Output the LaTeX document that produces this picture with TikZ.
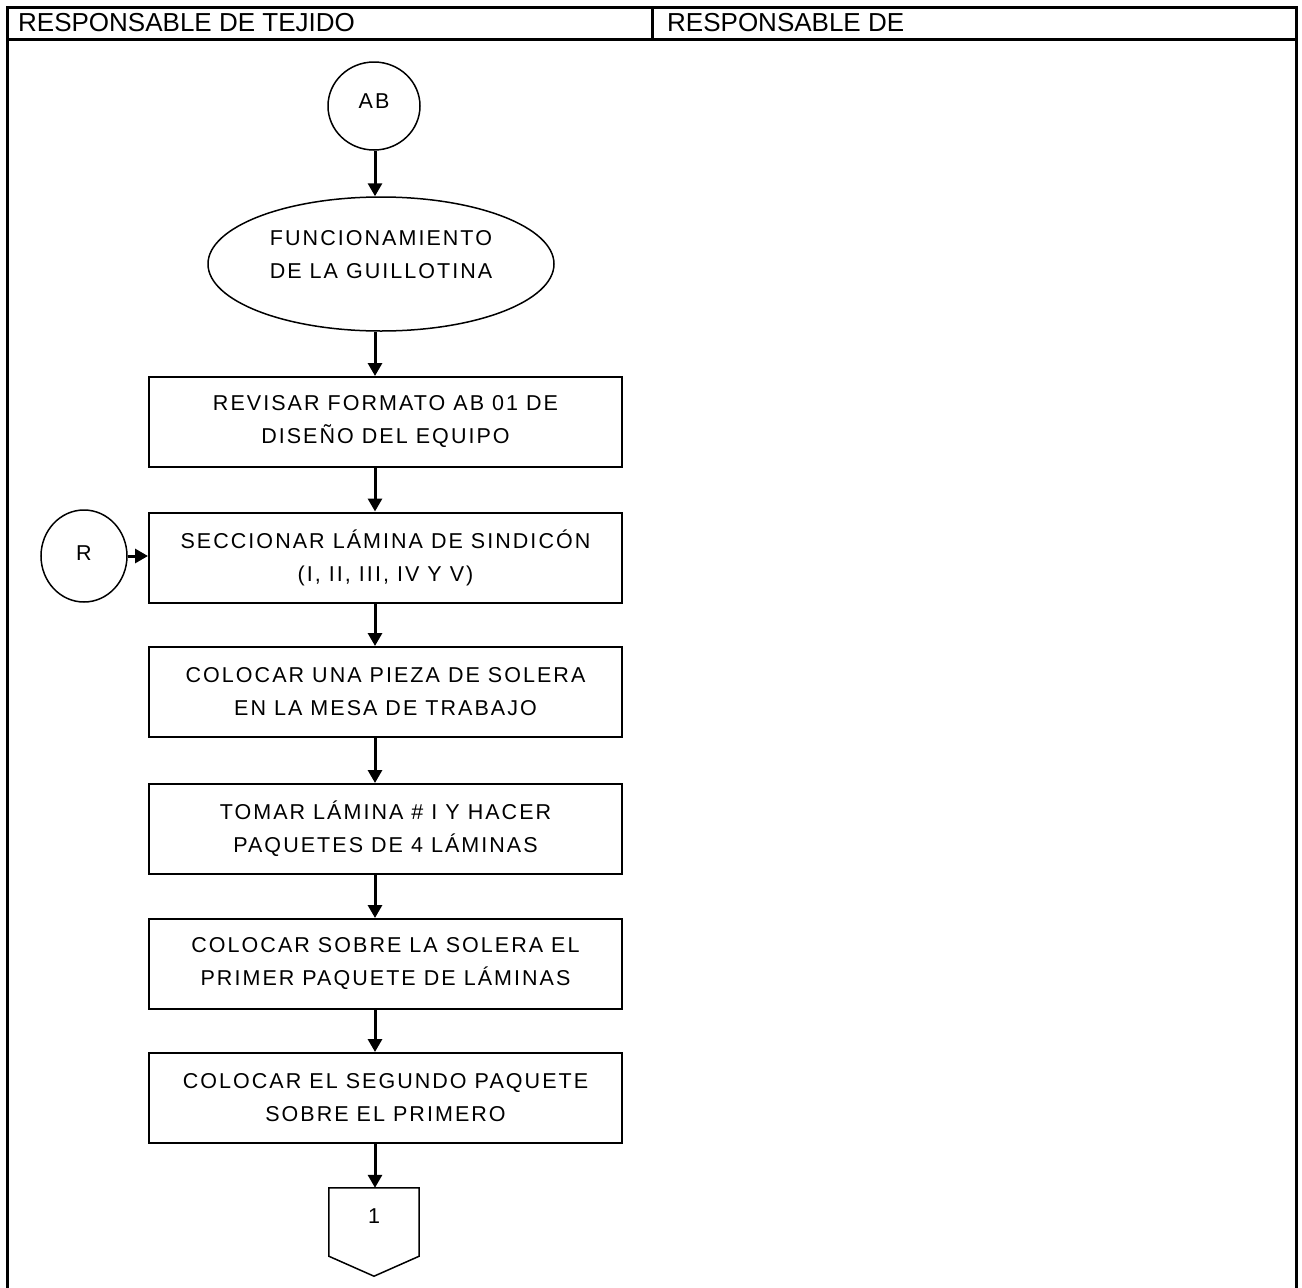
\documentclass[tikz,border=0pt]{standalone}
\usepackage{fontspec}
\setmainfont{Liberation Sans}
\newfontfamily\flowfont[LetterSpace=9.5]{Liberation Sans}
\usetikzlibrary{shapes.geometric,arrows.meta,calc}

\begin{document}
\begin{tikzpicture}[x=1pt,y=-1pt,
  frame/.style={line width=3pt},
  headtext/.style={anchor=west, inner sep=0pt, font=\fontsize{26}{30}\selectfont},
  flowtext/.style={align=center, font=\flowfont\fontsize{21.5}{33}\selectfont},
  procbox/.style={flowtext, draw, line width=2pt, minimum width=473pt, minimum height=90pt, inner sep=0pt},
  connector/.style={draw, ellipse, line width=1.5pt, inner sep=0pt},
  arr/.style={line width=3pt, -{Triangle[length=13pt,width=14pt]}}
]
  \useasboundingbox (0,0) rectangle (1302,1288);

  % table frame with its two column headings
  \draw[frame] (7,1288) -- (7,7) -- (1296,7) -- (1296,1288);
  \draw[frame] (7,39) -- (1296,39);
  \draw[frame] (652,7) -- (652,39);
  \node[headtext] (h1) at (18,23) {RESPONSABLE DE TEJIDO};
  \node[headtext] (h2) at (667,23) {RESPONSABLE DE};

  % vertical axis of the flow
  \coordinate (axis) at (375,0);

  % start connector and terminal
  \node[connector, minimum width=92pt, minimum height=88pt,
        label={[flowtext, yshift=5pt]center:AB}] (ab) at (374,106) {};
  \node[connector, minimum width=346pt, minimum height=134pt,
        label={[flowtext, yshift=9pt]center:FUNCIONAMIENTO\\DE LA GUILLOTINA}] (start) at (381,264) {};

  % process steps
  \node[procbox] (b1) at (385.5,422) {REVISAR FORMATO AB 01 DE\\DISEÑO DEL EQUIPO};
  \node[procbox] (b2) at (385.5,557.5) {SECCIONAR LÁMINA DE SINDICÓN\\(I, II, III, IV Y V)};
  \node[procbox] (b3) at (385.5,692) {COLOCAR UNA PIEZA DE SOLERA\\EN LA MESA DE TRABAJO};
  \node[procbox] (b4) at (385.5,829) {TOMAR LÁMINA \# I Y HACER\\PAQUETES DE 4 LÁMINAS};
  \node[procbox] (b5) at (385.5,964) {COLOCAR SOBRE LA SOLERA EL\\PRIMER PAQUETE DE LÁMINAS};
  \node[procbox] (b6) at (385.5,1098) {COLOCAR EL SEGUNDO PAQUETE\\SOBRE EL PRIMERO};

  % return connector
  \node[connector, minimum width=86pt, minimum height=92pt,
        label={[flowtext, yshift=3pt]center:R}] (r) at (84,556) {};

  % off-page connector
  \node[flowtext, minimum width=90pt, minimum height=56pt, inner sep=0pt] (off) at (374,1216) {1};
  \draw[line width=1.5pt, line join=miter]
    (off.north west) -- (off.north east) -- ([yshift=-12pt]off.south east)
    -- ([yshift=-32pt]off.south) -- ([yshift=-12pt]off.south west) -- cycle;

  % flow arrows
  \draw[arr] (ab.south -| axis) -- (start.north -| axis);
  \draw[arr] (start.south -| axis) -- (b1.north -| axis);
  \draw[arr] (b1.south -| axis) -- (b2.north -| axis);
  \draw[arr] (b2.south -| axis) -- (b3.north -| axis);
  \draw[arr] (b3.south -| axis) -- (b4.north -| axis);
  \draw[arr] (b4.south -| axis) -- (b5.north -| axis);
  \draw[arr] (b5.south -| axis) -- (b6.north -| axis);
  \draw[arr] (b6.south -| axis) -- (off.north -| axis);
  \draw[arr] (r.east) -- (r.east -| b2.west);
\end{tikzpicture}
\end{document}
